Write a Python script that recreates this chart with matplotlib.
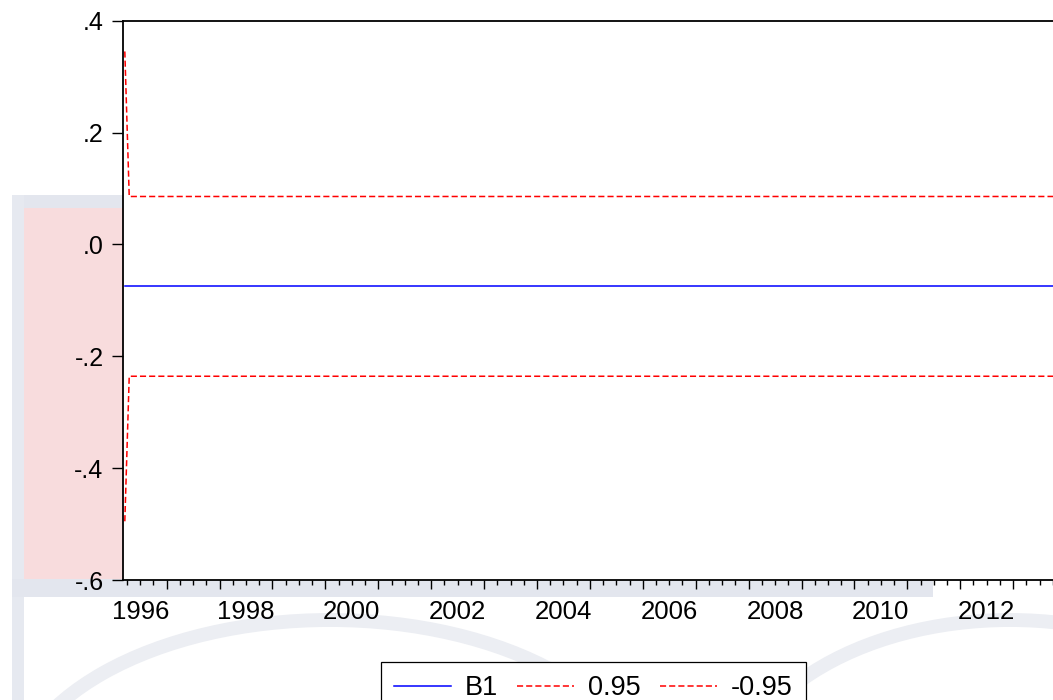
import matplotlib
matplotlib.use("Agg")
import matplotlib.pyplot as plt
import matplotlib.patches as mpatches
from matplotlib.ticker import FixedLocator, FuncFormatter
import pandas as pd

plt.rcParams['font.family'] = ['Liberation Sans', 'DejaVu Sans']

# ---- data (monthly) ----
months = pd.period_range('1996-03', '2013-12', freq='M')
n = len(months)
b1_values = [-0.075] * n
upper_values = [0.345] + [0.0857] * (n - 1)
lower_values = [-0.495] + [-0.2357] * (n - 1)
series_names = ['B1', '0.95', '-0.95']
year_labels = [1996, 1998, 2000, 2002, 2004, 2006, 2008, 2010, 2012]
y_ticks = [0.4, 0.2, 0.0, -0.2, -0.4, -0.6]
y_ticklabels = ['.4', '.2', '.0', '-.2', '-.4', '-.6']

x = [p.year + (p.month - 1) / 12 + 1 / 24 for p in months]

W, H = 1053, 700
fig = plt.figure(figsize=(W / 100, H / 100), dpi=100)
fig.patch.set_facecolor('white')

def rect(x0, y0, x1, y1, color):
    fig.patches.append(mpatches.Rectangle((x0 / W, 1 - y1 / H), (x1 - x0) / W, (y1 - y0) / H,
                                          transform=fig.transFigure, color=color, zorder=0, lw=0))

# ---- faint watermark in background ----
wm_blue = '#e3e6ee'
wm_pink = '#f8dcdd'
rect(12, 195, 600, 208, wm_blue)
rect(12, 195, 24, 700, '#e6e9f0')
rect(24, 208, 600, 580, wm_pink)
rect(12, 579, 933, 597, wm_blue)
for cx, cy, w, h in [(330, 800, 640, 360), (1010, 800, 560, 360)]:
    fig.patches.append(mpatches.Ellipse((cx / W, 1 - cy / H), w / W, h / H, transform=fig.transFigure,
                                        fill=False, edgecolor='#eceef3', lw=10, zorder=0))
for yy in [232, 250, 266]:
    fig.lines.append(plt.Line2D([100 / W, 125 / W], [1 - yy / H, 1 - (yy - 6) / H],
                                transform=fig.transFigure, color='#fbf1c8', lw=4, zorder=0))

# ---- axes ----
ax = fig.add_axes([123 / W, 120 / H, 930 / W, (580 - 20.7) / H])
ax.set_facecolor('white')
ax.set_zorder(2)

l1, = ax.plot(x, b1_values, color='#0000ff', lw=1.1)
l2, = ax.plot(x, upper_values, color='#ff0000', lw=1.1, dashes=(4.0, 2.0))
l3, = ax.plot(x, lower_values, color='#ff0000', lw=1.1, dashes=(4.0, 2.0))

ax.set_xlim(1996.174, 2013.754)
ax.set_ylim(-0.6, 0.4)

ax.set_yticks(y_ticks)
ax.set_yticklabels(y_ticklabels)

majors = list(range(1996, 2015))
minors = [yr + q / 4 for yr in range(1995, 2015) for q in (1, 2, 3)]
ax.xaxis.set_major_locator(FixedLocator(majors))
ax.xaxis.set_minor_locator(FixedLocator(minors))
ax.xaxis.set_major_formatter(FuncFormatter(lambda v, p: ''))
label_pos = {yr + 0.5: str(yr) for yr in year_labels}
ax.xaxis.set_minor_formatter(FuncFormatter(lambda v, p: label_pos.get(round(v, 2), '')))

ax.tick_params(axis='y', direction='out', length=8, width=1.0, pad=6, labelsize=18, colors='black')
ax.tick_params(axis='x', which='major', direction='out', length=6.5, width=1.0)
ax.tick_params(axis='x', which='minor', direction='out', length=3.6, width=1.0, pad=10.5, labelsize=18.5)

for s in ['left', 'bottom', 'top']:
    ax.spines[s].set_linewidth(1.3)
    ax.spines[s].set_color('black')
ax.spines['right'].set_visible(False)

leg = fig.legend([l1, l2, l3], series_names, loc='upper left',
                 bbox_to_anchor=(380.7 / W, 1 - 661.7 / H), ncol=3, fontsize=19.5,
                 frameon=True, fancybox=False, edgecolor='black', framealpha=1,
                 handlelength=2.1, handletextpad=0.5, columnspacing=0.72,
                 borderpad=0.5, borderaxespad=0)
leg.get_frame().set_linewidth(0.9)
leg.set_zorder(3)

fig.savefig('out.png', dpi=100)
